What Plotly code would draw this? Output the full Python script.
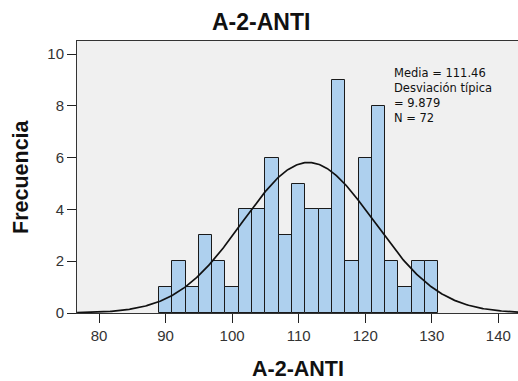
import numpy as np
import plotly.graph_objects as go

# Data
bin_centers = [90, 92, 94, 96, 98, 100, 102, 104, 106, 108, 110,
               112, 114, 116, 118, 120, 122, 124, 126, 128, 130]
counts = [1, 2, 1, 3, 2, 1, 4, 4, 6, 3, 5, 4, 4, 9, 2, 6, 8, 2, 1, 2, 2]
bin_width = 2
mean_val = 111.46
std_val = 9.879
n_val = 72
x_ticks = [80, 90, 100, 110, 120, 130, 140]
y_ticks = [0, 2, 4, 6, 8, 10]
stat_lines = [f"Media = {mean_val}", "Desviación típica", f"= {std_val}", f"N = {n_val}"]

# Fitted normal curve
xc = np.linspace(76.7, 143, 400)
yc = n_val * bin_width / (std_val * np.sqrt(2 * np.pi)) * np.exp(-0.5 * ((xc - mean_val) / std_val) ** 2)

fig = go.Figure()
fig.add_trace(go.Bar(
    x=bin_centers, y=counts, width=bin_width,
    marker=dict(color="#AED0EE", line=dict(color="#1a1a1a", width=1)),
    showlegend=False, hoverinfo="x+y"))
fig.add_trace(go.Scatter(x=xc, y=yc, mode="lines",
                         line=dict(color="#111111", width=1.7),
                         showlegend=False, hoverinfo="skip"))

font_fam = "Liberation Sans, Arial, sans-serif"
L, T, W, H = 77, 41, 441, 272


def px(x):
    return (x - L) / W


def py(y):
    return (T + H - y) / H


fig.update_layout(
    width=518, height=381,
    margin=dict(l=L, r=518 - L - W, t=T, b=381 - T - H),
    paper_bgcolor="white", plot_bgcolor="#F0F0F0",
    font=dict(family=font_fam, color="#222222"),
    bargap=0,
    xaxis=dict(range=[76.69, 142.96], tickvals=x_ticks, ticks="outside",
               ticklen=9, tickcolor="#222222", showgrid=False, zeroline=False,
               showline=True, linecolor="#333333", linewidth=1, mirror=True,
               tickfont=dict(size=15, color="#333333")),
    yaxis=dict(range=[0, 10.51], tickvals=y_ticks, ticks="outside",
               ticklen=9, tickcolor="#222222", showgrid=False, zeroline=False,
               showline=True, linecolor="#333333", linewidth=1, mirror=True,
               tickfont=dict(size=15, color="#333333")),
)

# Chart title and axis titles
fig.add_annotation(xref="paper", yref="paper", x=px(260.5), y=py(22),
                   xanchor="center", yanchor="middle", showarrow=False,
                   text="<b>A-2-ANTI</b>", font=dict(size=23, color="#111111", family=font_fam))
fig.add_annotation(xref="paper", yref="paper", x=px(298), y=py(369),
                   xanchor="center", yanchor="middle", showarrow=False,
                   text="<b>A-2-ANTI</b>", font=dict(size=21.5, color="#111111", family=font_fam))
fig.add_annotation(xref="paper", yref="paper", x=px(20.5), y=py(176.5),
                   xanchor="center", yanchor="middle", showarrow=False, textangle=-90,
                   text="<b>Frecuencia</b>", font=dict(size=21.5, color="#111111", family=font_fam))

# Statistics text (single block so lines do not collide)
fig.add_annotation(
    xref="paper", yref="paper", x=px(392), y=py(96),
    xanchor="left", yanchor="middle", align="left", showarrow=False,
    text="<br>".join(stat_lines),
    font=dict(size=11.5, color="#111111", family="DejaVu Sans"))

fig.write_html("out.html")
